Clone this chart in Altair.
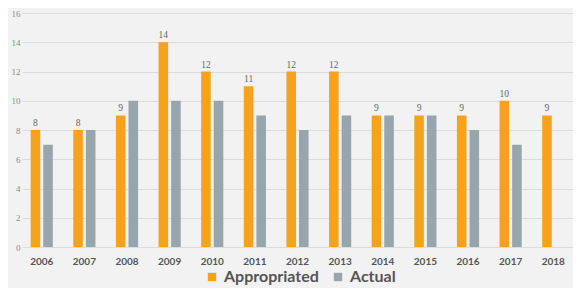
import altair as alt
import pandas as pd

years = ["2006", "2007", "2008", "2009", "2010", "2011", "2012",
         "2013", "2014", "2015", "2016", "2017", "2018"]
appropriated = [8, 8, 9, 14, 12, 11, 12, 12, 9, 9, 9, 10, 9]
actual = [7, 8, 10, 10, 10, 9, 8, 9, 9, 9, 8, 7, None]
series = ["Appropriated", "Actual"]
colors = ["#F6A21D", "#97A6AC"]
y_ticks = [0, 2, 4, 6, 8, 10, 12, 14, 16]

rows = []
for i, yr in enumerate(years):
    rows.append({"year": yr, "series": "Appropriated", "value": appropriated[i]})
    if actual[i] is not None:
        rows.append({"year": yr, "series": "Actual", "value": actual[i]})
df = pd.DataFrame(rows)

x_enc = alt.X("year:N", sort=years, title=None,
              scale=alt.Scale(paddingInner=0.48, paddingOuter=0.203),
              axis=alt.Axis(labelAngle=0, labelFont="Lato", labelFontWeight="bold",
                            labelFontSize=10, labelColor="#555555", labelPadding=9,
                            ticks=False, domain=False, grid=False))
xoff_enc = alt.XOffset("series:N", sort=series,
                       scale=alt.Scale(domain=series, paddingInner=0.24, paddingOuter=0))
y_enc = alt.Y("value:Q", title=None,
              scale=alt.Scale(domain=[0, 16], nice=False),
              axis=alt.Axis(values=y_ticks, labelOverlap=False, labelFont="Liberation Serif",
                            labelFontSize=9, labelColor="#8a8a8a", labelPadding=2,
                            ticks=False, domain=False, gridColor="#dcdcdc", gridWidth=1))

bars = alt.Chart(df).mark_bar().encode(
    x=x_enc,
    xOffset=xoff_enc,
    y=y_enc,
    color=alt.Color("series:N", sort=series,
                    scale=alt.Scale(domain=series, range=colors),
                    legend=alt.Legend(title=None, orient="none", direction="horizontal",
                                      legendX=182, legendY=256,
                                      symbolType="square", symbolSize=70,
                                      symbolStrokeWidth=0,
                                      labelFont="Lato", labelFontWeight="bold",
                                      labelFontSize=16, labelColor="#555555",
                                      labelOffset=4, columnPadding=11)),
)

labels = alt.Chart(df).transform_filter(
    alt.datum.series == "Appropriated"
).mark_text(dy=-7, font="Liberation Serif", fontSize=9.5, color="#666666").encode(
    x=x_enc,
    xOffset=xoff_enc,
    y=y_enc,
    text=alt.Text("value:Q"),
)

chart = alt.layer(bars, labels).properties(
    width=551, height=234,
    autosize=alt.AutoSizeParams(type="none"),
    padding={"left": 14, "top": 5, "right": 0, "bottom": 41},
    background="#f2f2f2",
).configure_view(stroke=None)

chart.save("out.html", embed_options={"renderer": "svg", "actions": False})
